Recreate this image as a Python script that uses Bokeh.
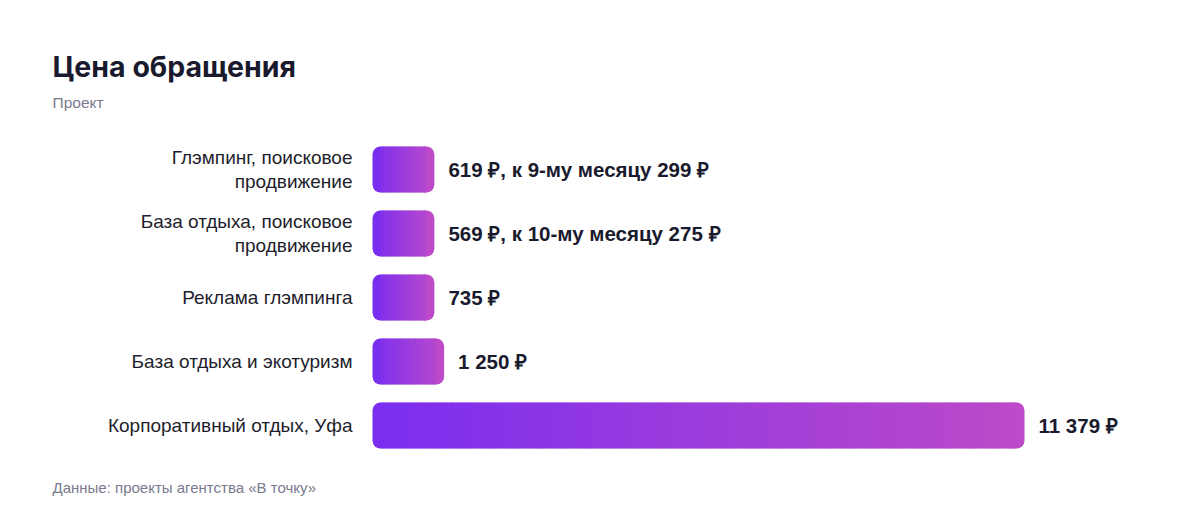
import numpy as np

from bokeh.plotting import figure
from bokeh.models import Range1d
from bokeh.core.properties import value
from bokeh.embed import file_html
from bokeh.resources import INLINE

# data
projects = ["Глэмпинг, поисковое\nпродвижение",
            "База отдыха, поисковое\nпродвижение",
            "Реклама глэмпинга",
            "База отдыха и экотуризм",
            "Корпоративный отдых, Уфа"]
price = [619, 569, 735, 1250, 11379]
price_labels = ["619 ₽, к 9-му месяцу 299 ₽",
                "569 ₽, к 10-му месяцу 275 ₽",
                "735 ₽",
                "1 250 ₽",
                "11 379 ₽"]
min_bar = 1080  # short bars are drawn at a minimum length

title = "Цена обращения"
subtitle = "Проект"
source_note = "Данные: проекты агентства «В точку»"

# layout (pixels from the top-left of the canvas)
W, H = 1184, 504
bar_x0 = 372        # where the bars start
bar_full = 652      # pixel length of the largest bar
row0, row_step = 169, 64
k = max(price) / bar_full


def dx(px):
    return (px - bar_x0) * k


def dy(py):
    return (py - row0) / row_step


p = figure(width=W, height=H, output_backend="svg", toolbar_location=None,
           x_range=Range1d(dx(0), dx(W)),
           y_range=Range1d(dy(H), dy(0)),
           min_border=0)
p.axis.visible = False
p.grid.visible = False
p.outline_line_color = None
p.background_fill_color = "white"

c0 = np.array([0x7a, 0x2e, 0xf0])
c1 = np.array([0xbd, 0x4a, 0xc8])


def mix(t):
    c = c0 + (c1 - c0) * t
    return "#%02x%02x%02x" % tuple(int(round(v)) for v in c)


ys = np.arange(len(price))
lengths = np.maximum(np.array(price, dtype=float), min_bar)
h = 46 / row_step
r_px = 8
r = r_px * k

# rounded end caps
p.hbar(y=ys, left=0, right=2 * r, height=h, fill_color=mix(0), line_color=None,
       border_radius=r_px)
p.hbar(y=ys, left=lengths - 2 * r, right=lengths, height=h, fill_color=mix(1),
       line_color=None, border_radius=r_px)

# gradient body as slices about 3px wide, each overlapping the next
sl_y, sl_l, sl_r, sl_c = [], [], [], []
for i, L in enumerate(lengths):
    n = max(6, int((L - 2 * r) / k / 3))
    edges = np.linspace(r, L - r, n + 1)
    for j in range(n):
        mid = (edges[j] + edges[j + 1]) / 2
        sl_y.append(i)
        sl_l.append(edges[j])
        sl_r.append(min(edges[j + 1] + 1.5 * k, L - r))
        sl_c.append(mix(mid / L))
p.hbar(y=sl_y, left=sl_l, right=sl_r, height=h, fill_color=sl_c, line_color=None)

# category labels
p.text(x=0, y=ys, text=projects, x_offset=-20, text_align="right",
       text_baseline="middle", text_font=value("Liberation Sans"),
       text_font_size="19px", text_color="#1e1e2c", text_line_height=1.15)

# value labels
p.text(x=lengths, y=ys, text=price_labels, x_offset=14, text_align="left",
       text_baseline="middle", text_font=value("Liberation Sans"),
       text_font_size="20.5px", text_font_style="bold", text_color="#1a1a2e")

# title, subtitle, source
p.text(x=[dx(52)], y=[dy(66)], text=[title], text_align="left",
       text_baseline="middle", text_font=value("Inter"), text_font_size="28.5px",
       text_font_style="bold", text_color="#1a1a2e")
p.text(x=[dx(52)], y=[dy(102)], text=[subtitle], text_align="left",
       text_baseline="middle", text_font=value("Liberation Sans"),
       text_font_size="15.5px", text_color="#7a7a8e")
p.text(x=[dx(52)], y=[dy(487)], text=[source_note], text_align="left",
       text_baseline="middle", text_font=value("Liberation Sans"),
       text_font_size="15px", text_color="#7a7a8e")

open("out.html", "w").write(file_html(p, INLINE))
